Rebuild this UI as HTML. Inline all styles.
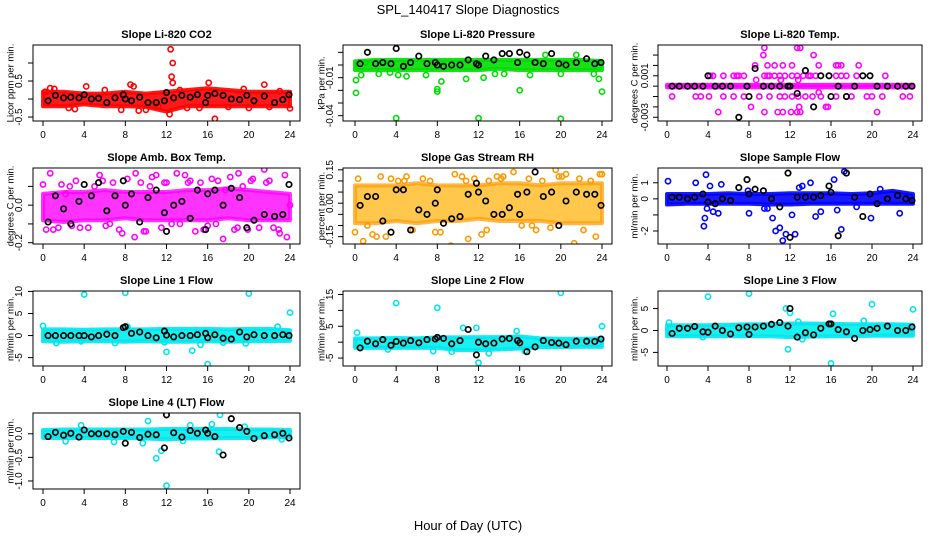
<!DOCTYPE html>
<html><head><meta charset="utf-8">
<style>
html,body{margin:0;padding:0;background:#fff;}
svg{display:block;font-family:"Liberation Sans",Arial,sans-serif;}
</style></head>
<body>
<svg id="chart" width="936" height="540" viewBox="0 0 936 540" xmlns="http://www.w3.org/2000/svg">
<text x="468" y="14" text-anchor="middle" font-size="13">SPL_140417  Slope Diagnostics</text>
<text x="468" y="530" text-anchor="middle" font-size="13">Hour of Day (UTC)</text>
</svg>
<script>
// ---- data ----
const xTicks = [0,4,8,12,16,20,24];
const bandHours = [0,2,4,6,8,10,12,14,16,18,20,22,24];
const blackHours = [0.5,1.2,2,2.7,3.5,4,4.7,5.4,6.2,7,7.8,8,8.6,9.4,10.2,11,11.8,12,12.7,13.5,14.3,15,15.8,16,16.7,17.5,18.3,19.1,19.8,20.5,21.5,22.5,23.3,23.9];

const co2Lo = [-0.2,-0.2,-0.15,-0.2,-0.2,-0.22,-0.35,-0.2,-0.2,-0.2,-0.2,-0.2,-0.2];
const co2Hi = [0.2,0.2,0.15,0.15,0.2,0.15,0.2,0.25,0.3,0.25,0.2,0.2,0.2];
const co2OutH = [12.4,12.6,12.5,12.6,12.3,16.7,8.5,8.8,21.5,4.2,10,9.3,24,1.1,7.6,0.7,16.1,18,2.5,6,14,20,23,0.2,3.1,11.2,13.3,15.2,19.5,22];
const co2OutV = [1.38,1.0,0.62,0.45,-0.42,-0.55,0.4,0.35,0.4,0.35,-0.3,-0.32,-0.26,0.28,-0.3,0.3,0.45,-0.22,-0.25,0.25,-0.25,-0.25,0.22,0.2,-0.28,-0.2,0.25,-0.25,0.28,-0.22];
const co2Blk = [-0.05,0.1,0.03,0.05,0.03,0.12,0.0,0.02,-0.1,0.03,0.12,0.0,-0.05,0.05,-0.1,-0.1,-0.05,0.18,0.03,0.1,0.05,0.12,-0.1,0.1,0.15,0.1,0.0,-0.02,0.1,-0.05,0.08,-0.1,-0.02,0.12];

const presLo = [-0.004,-0.004,-0.004,-0.004,-0.004,-0.004,-0.004,-0.003,-0.004,-0.004,-0.004,-0.004,-0.004];
const presHi = [0.003,0.004,0.004,0.004,0.004,0.004,0.004,0.004,0.004,0.004,0.004,0.004,0.003];
const presOutH = [0.1,4,12,20,16,24,8,8,8.4,0.1,0.6,4.2,2.3,5,6.9,10.8,12.5,13.6,17,18.5,20,23.2,23.7,1,3.4,14.5,21.5];
const presOutV = [-0.022,-0.042,-0.042,-0.0425,-0.02,-0.021,-0.021,-0.019,-0.013,-0.012,-0.008,-0.008,-0.007,-0.009,-0.008,-0.011,-0.01,-0.007,-0.008,0.008,-0.007,-0.007,-0.011,0.002,-0.006,-0.007,0.008];
const presBlk = [0.001,0.01,0.001,0.002,0.001,0.013,-0.001,0.002,0.007,0.001,0.002,0.0,-0.001,0.0,0.0,0.004,0.001,0.0,0.007,0.004,0.009,0.009,0.002,0.01,0.008,0.002,0.001,0.009,0.001,0.0,0.002,0.005,0.001,0.002];

const tempLo = [-0.00012,-0.00012,-0.00012,-0.00012,-0.00012,-0.00012,-0.00012,-0.00012,-0.00012,-0.00012,-0.00012,-0.00012,-0.00012];
const tempHi = [0.00012,0.00012,0.00012,0.00012,0.00012,0.00012,0.00012,0.00012,0.00012,0.00012,0.00012,0.00012,0.00012];
const tempOutH = [4.5,5.5,6.5,7,7.5,9.5,10,10.5,11.5,12.7,13.3,14,14.5,16.5,17,17.5,18.5,21.3,4.2,6.8,9.8,11,12.2,13.8,
 0.5,2.8,3.3,4.1,5.5,6.5,7.5,9,10,11,11.5,12.2,12.8,13.5,14.2,15,16.5,17.5,18,19.5,20,21,23,23.7,
 8.2,12.9,15.5,15.7, 8.6,9.8,10.5,11.3,12.2,14.8,16.5,16.7,17,18.7, 9.4,14.3, 9.5,12.7,13, 5,9.5,10.8,11.3,12.1,12.7,13,20.5, 8.7,11.1,12.8,14.8];
const tempOutV = [0.001,0.001,0.001,0.001,0.001,0.001,0.001,0.001,0.001,0.001,0.001,0.001,0.001,0.001,0.001,0.001,0.001,0.001,0.001,0.001,0.001,0.001,0.001,0.001,
 -0.001,-0.001,-0.001,-0.001,-0.001,-0.001,-0.001,-0.001,-0.001,-0.001,-0.001,-0.001,-0.001,-0.001,-0.001,-0.001,-0.001,-0.001,-0.001,-0.001,-0.001,-0.001,-0.001,-0.001,
 -0.002,-0.002,-0.002,-0.002, 0.002,0.002,0.002,0.002,0.002,0.002,0.002,0.002,0.002,0.002, 0.003,0.003, 0.0037,0.0037,0.0037, -0.0025,-0.0025,-0.0025,-0.0025,-0.0025,-0.0025,-0.0025,-0.0025, 0.0006,0.0006,0.0006,-0.0006];
const tempBlk = [0,0,0,0,0,0.001,0,0,0,-0.003,0,-0.001,0.0017,0,0,0,0,0,-0.0007,0.0015,-0.002,0.001,0.001,-0.001,0,-0.001,0,0.001,0.001,0,0,0,0,0];

const ambLo = [-0.08,-0.09,-0.08,-0.08,-0.07,-0.08,-0.08,-0.08,-0.08,-0.07,-0.08,-0.08,-0.08];
const ambHi = [0.06,0.07,0.07,0.08,0.07,0.07,0.07,0.08,0.08,0.09,0.08,0.07,0.06];
const ambOutH = [0,0.7,1,1.5,2.2,2.8,3.2,4.4,5,5.5,6.1,6.8,7.4,8.2,8.9,9,9.5,10,10.4,11,11.5,12,12.5,13,13.3,13.8,14.3,14.8,15.3,16,16.4,17,17.5,17.7,18.2,18.6,19,19.4,19.9,20.4,21,21.5,22,22.4,23,23.5,23.7,24,0.3,1.8,3.6,5.8,7.7,9.8,11.8,15.6,18.9,21.7,2.6,6.5,10.6,14.1,16.8,20.2,22.9];
const ambOutV = [0.11,0.17,-0.13,-0.12,0.06,-0.11,0.13,-0.12,0.1,0.16,-0.11,0.12,-0.13,0.14,-0.17,0.17,0.12,-0.14,0.1,0.16,-0.12,0.12,-0.1,0.17,-0.1,0.16,0.13,-0.14,0.12,-0.11,0.14,0.13,-0.18,0.08,0.15,-0.13,0.17,0.1,-0.13,0.14,-0.12,0.19,0.13,-0.12,-0.15,0.16,-0.17,0.0,-0.13,0.11,-0.12,0.13,-0.15,-0.14,0.12,-0.13,-0.12,0.12,0.1,-0.1,0.15,0.12,-0.1,0.13,-0.13];
const ambBlk = [-0.09,0.05,-0.02,-0.1,0.02,0.11,0.05,0.12,-0.03,0.05,0.13,0.0,0.06,-0.09,0.04,0.08,-0.04,-0.14,0.0,0.02,-0.07,0.08,-0.13,0.06,0.08,0.0,0.09,0.04,-0.12,-0.08,-0.05,-0.06,-0.05,0.11];

const rhLo = [-0.09,-0.09,-0.08,-0.09,-0.08,-0.08,-0.07,-0.08,-0.08,-0.08,-0.09,-0.09,-0.09];
const rhHi = [0.08,0.08,0.08,0.09,0.08,0.08,0.08,0.09,0.09,0.08,0.09,0.09,0.09];
const rhOutH = [0,0.3,0.8,1.7,2.5,3,3.5,4.2,5,5.6,6.1,6.6,7.3,8.3,9.3,9.7,10.4,11,11.6,12.3,13,13.8,14.4,15,15.4,16.2,16.9,17.6,18.2,19,19.5,19.8,20.5,21.3,21.8,22.4,22.9,23.4,24,1.2,2.1,4.8,7.8,10.8,12.8,14.2,17.2,20.1,22.2,23.8];
const rhOutV = [-0.13,0.11,-0.17,-0.14,0.12,-0.15,0.11,0.1,0.12,-0.12,-0.2,0.11,0.1,-0.13,-0.19,0.13,0.12,-0.16,0.11,-0.14,0.1,0.12,0.12,-0.2,0.14,-0.1,0.11,-0.12,0.1,-0.11,0.15,0.12,0.13,-0.18,0.11,-0.2,0.1,-0.15,0.13,-0.1,-0.15,0.1,-0.13,0.1,-0.12,0.11,-0.1,0.12,-0.12,0.13];
const rhBlk = [-0.01,0.03,0.03,-0.08,-0.13,0.06,0.06,-0.12,-0.03,-0.05,0.0,0.06,-0.09,-0.07,-0.06,0.04,0.09,0.05,0.01,-0.05,-0.05,-0.02,0.04,-0.05,0.05,0.14,0.03,0.05,-0.1,0.01,0.05,0.04,0.04,-0.01];

const sampLo = [-0.35,-0.3,-0.3,-0.3,-0.3,-0.35,-0.35,-0.3,-0.3,-0.3,-0.3,-0.3,-0.3];
const sampHi = [0.3,0.3,0.3,0.35,0.3,0.3,0.35,0.35,0.35,0.3,0.35,0.5,0.3];
const sampOutH = [0.1,2.8,3.8,3.7,3.6,4.2,4.5,5,5.3,8,9.8,10.3,10.6,11,11.3,11.6,12.2,12.5,13.2,14,14.5,15,16.3,17,17.3,18.5,19.9,20.8,22.7,3.9,7.9,12.9,16.6,9.5];
const sampOutV = [1.1,1.0,1.5,-1.2,-1.7,0.8,-0.8,-0.9,0.9,-0.9,-0.6,-1.2,-2.0,-1.8,-2.6,-2.2,-1.0,-2.2,0.8,1.0,-1.1,-0.8,1.2,-1.9,1.7,-0.5,-1.2,0.6,-0.9,-0.6,0.5,0.7,-0.7,-0.6];
const sampBlk = [0.1,0.1,0.0,0.1,0.3,-0.2,-0.3,0.0,-0.1,0.7,1.2,0.3,0.6,0.5,0.0,-0.5,1.6,-2.4,0.1,0.1,0.1,0.2,0.8,0.4,-2.3,1.6,0.1,-1.1,0.3,-0.3,0.0,0.2,0.0,-0.1];

const l1Lo = [-1.3,-1.4,-1.3,-1.3,-1.4,-1.3,-1.4,-1.4,-1.3,-1.4,-1.3,-1.3,-1.2];
const l1Hi = [1.4,1.4,1.3,1.4,1.4,1.4,1.5,1.5,1.5,1.4,1.5,1.5,1.2];
const l1OutH = [4,8,20,24,0,8.2,12,14.5,15.3,16,11.8,3.7,19.7,22.8,7,1.3,17.5];
const l1OutV = [9.3,9.7,9.5,5.2,2.2,2.0,-3.7,-3.4,-2.1,-6.5,-1.5,-1.3,-1.8,2.0,-1.7,-1.7,-1.6];
const l1Blk = [0,0,0,0,0,0,-0.3,0,0.3,0,1.8,2,0.5,0.8,0,-0.5,1,0.1,-0.3,0,0,0.2,0.5,-0.5,0.2,-0.6,-0.8,0.8,-0.3,0.2,0,0,0.2,0];

const l2Lo = [-1.8,-1.8,-1.8,-1.8,-1.8,-2.5,-2.5,-2.3,-2,-1.6,-1.6,-1.5,-1.5];
const l2Hi = [1.2,1.2,1.3,1.2,1.5,1.5,1.6,1.6,1.8,1.2,1.1,1.1,1.2];
const l2OutH = [4,8,20,24,0.2,10.5,12,11.8,16.5,13,9.4,7.6,15.7,3.2];
const l2OutV = [12.3,10.8,15.5,5,3,4.5,-6.5,4.5,-2.8,-3.5,-3,-2.8,3.5,-2.3];
const l2Blk = [-1.8,0.3,-0.5,0.8,-1,0.2,-0.3,0.5,-0.2,0.8,1,1.5,1.2,-0.5,0.5,4,-4,0,-0.5,-0.3,1,1.2,0.5,-0.2,-3,-1.5,0.5,-0.1,-0.3,-0.8,0.3,0.3,0.2,1];

const l3Lo = [-1.3,-1.3,-1.3,-1.3,-1.3,-1.3,-1.5,-1.4,-1.3,-1.3,-1.2,-1.2,-1.2];
const l3Hi = [1.2,1.2,1.2,1.3,1.4,1.4,1.6,1.6,1.5,1.4,1.4,1.4,1.3];
const l3OutH = [4,8,20,24,16,11.8,12.8,16.2,12,11.6,0.2,13.2,3.5,19.2];
const l3OutV = [7.7,8.4,6,4.8,-7.5,-4.3,2,3.8,4,5,1.8,-2,-1.5,2.2];
const l3Blk = [-0.7,0.5,0.5,0.9,-0.3,-0.4,1,0,-0.8,0.6,0.8,-0.9,0.8,1,1.4,1.8,1,5,-1.5,-0.5,-1,0.5,1.5,1.5,0.2,-0.3,-1.8,0,0.2,0.5,1,0,0,0.8];

const l4Lo = [-0.09,-0.09,-0.09,-0.09,-0.09,-0.1,-0.12,-0.1,-0.1,-0.09,-0.09,-0.08,-0.07];
const l4Hi = [0.08,0.09,0.09,0.09,0.09,0.09,0.1,0.1,0.1,0.1,0.09,0.09,0.08];
const l4OutH = [12,11,10.2,11.5,17.2,17.1,3.7,9.7,16.4,2.2,6.9,13.6,23.2,14.3,19.6];
const l4OutV = [-1.1,-0.52,0.27,-0.36,0.4,-0.38,0.18,-0.2,0.2,-0.16,-0.17,-0.15,-0.12,0.18,0.15];
const l4Blk = [-0.06,0.03,-0.03,0.01,-0.07,0.08,0.0,0.0,0.0,-0.02,0.05,-0.2,0.03,-0.08,-0.01,-0.02,-0.3,0.4,0.02,-0.07,0.07,0.01,0.08,0.01,-0.06,-0.45,0.32,0.13,0.05,-0.1,-0.04,-0.02,0.01,-0.09];

// ---- tick arrays ----
const co2Ticks=[-0.5,0,0.5,1.0], co2TickLbl=["-0.5","","0.5",""];
const presTicks=[-0.04,-0.03,-0.02,-0.01,0,0.01], presTickLbl=["-0.04","","","-0.01","",""];
const tempTicks=[-0.003,-0.002,-0.001,0,0.001,0.002,0.003], tempTickLbl=["-0.003","","","","0.001","",""];
const ambTicks=[-0.2,-0.1,0,0.1], ambTickLbl=["-0.2","","0.0",""];
const rhTicks=[-0.15,-0.1,-0.05,0,0.05,0.1,0.15], rhTickLbl=["-0.15","","","0.00","","","0.15"];
const sampTicks=[-2,-1,0,1], sampTickLbl=["-2","","0","1"];
const l1Ticks=[-5,0,5,10], l1TickLbl=["-5","0","5","10"];
const l2Ticks=[-5,0,5,10,15], l2TickLbl=["-5","","5","","15"];
const l3Ticks=[-5,0,5], l3TickLbl=["-5","0","5"];
const l4Ticks=[-1.0,-0.5,0.0], l4TickLbl=["-1.0","-0.5","0.0"];

// ---- layout ----
const cols=[{bx0:33,bx1:300,x0:43,x1:290,lx:22,tx:10},{bx0:343,bx1:612,x0:355,x1:602,lx:333,tx:321},{bx0:658,bx1:922,x0:667,x1:913,lx:648,tx:634}];
const rows=[{by0:45,by1:121},{by0:168,by1:244},{by0:291,by1:366},{by0:413,by1:489}];

const panels=[
 {name:"co2",title:"Slope Li-820 CO2",ylab:"Licor ppm per min.",c:0,r:0,ymin:-0.61,ymax:1.5,col:"#ff0000",fill:"#ff0000",lo:co2Lo,hi:co2Hi,oh:co2OutH,ov:co2OutV,blk:co2Blk,ticks:co2Ticks,tl:co2TickLbl},
 {name:"pressure",title:"Slope Li-820 Pressure",ylab:"kPa per min.",c:1,r:0,ymin:-0.0442,ymax:0.0158,col:"#00dd00",fill:"#00dd00",lo:presLo,hi:presHi,oh:presOutH,ov:presOutV,blk:presBlk,ticks:presTicks,tl:presTickLbl},
 {name:"temp",title:"Slope Li-820 Temp.",ylab:"degrees C per min.",c:2,r:0,ymin:-0.00336,ymax:0.00397,col:"#ff00ff",fill:"#ff00ff",lo:tempLo,hi:tempHi,oh:tempOutH,ov:tempOutV,blk:tempBlk,ticks:tempTicks,tl:tempTickLbl},
 {name:"amb-box-temp",title:"Slope Amb. Box Temp.",ylab:"degrees C per min.",c:0,r:1,ymin:-0.207,ymax:0.198,col:"#ff00ff",fill:"#ff00ff",lo:ambLo,hi:ambHi,oh:ambOutH,ov:ambOutV,blk:ambBlk,ticks:ambTicks,tl:ambTickLbl,bandOp:0.8},
 {name:"gas-stream-rh",title:"Slope Gas Stream RH",ylab:"percent per min.",c:1,r:1,ymin:-0.183,ymax:0.158,col:"#ff9900",fill:"#ffb000",lo:rhLo,hi:rhHi,oh:rhOutH,ov:rhOutV,blk:rhBlk,ticks:rhTicks,tl:rhTickLbl,bandOp:0.7},
 {name:"sample-flow",title:"Slope Sample Flow",ylab:"ml/min per min.",c:2,r:1,ymin:-2.81,ymax:1.92,col:"#0000ff",fill:"#0000ff",lo:sampLo,hi:sampHi,oh:sampOutH,ov:sampOutV,blk:sampBlk,ticks:sampTicks,tl:sampTickLbl},
 {name:"line1-flow",title:"Slope Line 1 Flow",ylab:"ml/min per min.",c:0,r:2,ymin:-6.9,ymax:10.1,col:"#00e5ee",fill:"#00eeee",lo:l1Lo,hi:l1Hi,oh:l1OutH,ov:l1OutV,blk:l1Blk,ticks:l1Ticks,tl:l1TickLbl},
 {name:"line2-flow",title:"Slope Line 2 Flow",ylab:"ml/min per min.",c:1,r:2,ymin:-7.5,ymax:16.1,col:"#00e5ee",fill:"#00eeee",lo:l2Lo,hi:l2Hi,oh:l2OutH,ov:l2OutV,blk:l2Blk,ticks:l2Ticks,tl:l2TickLbl},
 {name:"line3-flow",title:"Slope Line 3 Flow",ylab:"ml/min per min.",c:2,r:2,ymin:-8.1,ymax:9.0,col:"#00e5ee",fill:"#00eeee",lo:l3Lo,hi:l3Hi,oh:l3OutH,ov:l3OutV,blk:l3Blk,ticks:l3Ticks,tl:l3TickLbl},
 {name:"line4-flow",title:"Slope Line 4 (LT) Flow",ylab:"ml/min per min.",c:0,r:3,ymin:-1.17,ymax:0.44,col:"#00e5ee",fill:"#00eeee",lo:l4Lo,hi:l4Hi,oh:l4OutH,ov:l4OutV,blk:l4Blk,ticks:l4Ticks,tl:l4TickLbl}
];

const NS="http://www.w3.org/2000/svg";
const svg=document.getElementById('chart');
function mk(tag,attrs,parent){const e=document.createElementNS(NS,tag);for(const k in attrs)e.setAttribute(k,attrs[k]);(parent||svg).appendChild(e);return e;}

panels.forEach(p=>{
 const C=cols[p.c],R=rows[p.r];
 const xs=h=>C.x0+(h/24)*(C.x1-C.x0);
 const ys=v=>R.by1-(v-p.ymin)/(p.ymax-p.ymin)*(R.by1-R.by0);
 const g=mk('g',{});
 
 
 const cp='clip-'+p.name;
 const cl=mk('clipPath',{id:cp},g);
 mk('rect',{x:C.bx0,y:R.by0,width:C.bx1-C.bx0,height:R.by1-R.by0},cl);
 const plot=mk('g',{'clip-path':'url(#'+cp+')'},g);
 let d='';
 bandHours.forEach((h,i)=>{d+=(i?'L':'M')+xs(h).toFixed(1)+','+ys(p.hi[i]).toFixed(1);});
 for(let i=bandHours.length-1;i>=0;i--)d+='L'+xs(bandHours[i]).toFixed(1)+','+ys(p.lo[i]).toFixed(1);
 const band=mk('path',{d:d+'Z',fill:p.fill,'fill-opacity':p.bandOp||0.9,stroke:p.col,'stroke-width':4,'stroke-linejoin':'round','stroke-opacity':p.bandOp||0.9},plot);
 
 
 const n=Math.min(p.oh.length,p.ov.length);
 for(let i=0;i<n;i++){
  const c=mk('circle',{cx:xs(p.oh[i]).toFixed(1),cy:ys(p.ov[i]).toFixed(1),r:2.6,fill:'none',stroke:p.col,'stroke-width':1.6},plot);
  
  
 }
 const m=Math.min(blackHours.length,p.blk.length);
 for(let i=0;i<m;i++){
  const c=mk('circle',{cx:xs(blackHours[i]).toFixed(1),cy:ys(p.blk[i]).toFixed(1),r:2.7,fill:'none',stroke:'#000','stroke-width':1.7},plot);
  
  
 }
 const box=mk('rect',{x:C.bx0,y:R.by0,width:C.bx1-C.bx0,height:R.by1-R.by0,fill:'none',stroke:'#000','stroke-width':1},g);
 
 
 const t=mk('text',{x:(C.bx0+C.bx1)/2,y:R.by0-7,'text-anchor':'middle','font-size':11,'font-weight':'bold'},g);
 t.textContent=p.title;
 
 
 const yc=(R.by0+R.by1)/2;
 const yl=mk('text',{x:C.tx,y:yc,'text-anchor':'middle','font-size':9.5,transform:`rotate(-90 ${C.tx} ${yc})`,dy:'0.35em'},g);
 yl.textContent=p.ylab;
 
 
 mk('line',{x1:xs(0),y1:R.by1,x2:xs(24),y2:R.by1,stroke:'#000'},g);
 xTicks.forEach(v=>{
  const x=xs(v);
  mk('line',{x1:x,y1:R.by1,x2:x,y2:R.by1+5,stroke:'#000'},g);
  const tx=mk('text',{x:x,y:R.by1+17,'text-anchor':'middle','font-size':10},g);
  tx.textContent=v;
  
  
 });
 mk('line',{x1:C.bx0,y1:ys(p.ticks[0]),x2:C.bx0,y2:ys(p.ticks[p.ticks.length-1]),stroke:'#000'},g);
 p.ticks.forEach((v,i)=>{
  const y=ys(v);
  mk('line',{x1:C.bx0-5,y1:y,x2:C.bx0,y2:y,stroke:'#000'},g);
  if(p.tl[i]){
   const ty=mk('text',{x:C.lx,y:y,'text-anchor':'middle','font-size':10,transform:`rotate(-90 ${C.lx} ${y})`},g);
   ty.textContent=p.tl[i];
   
   
  }
 });
});
</script>
</body></html>
